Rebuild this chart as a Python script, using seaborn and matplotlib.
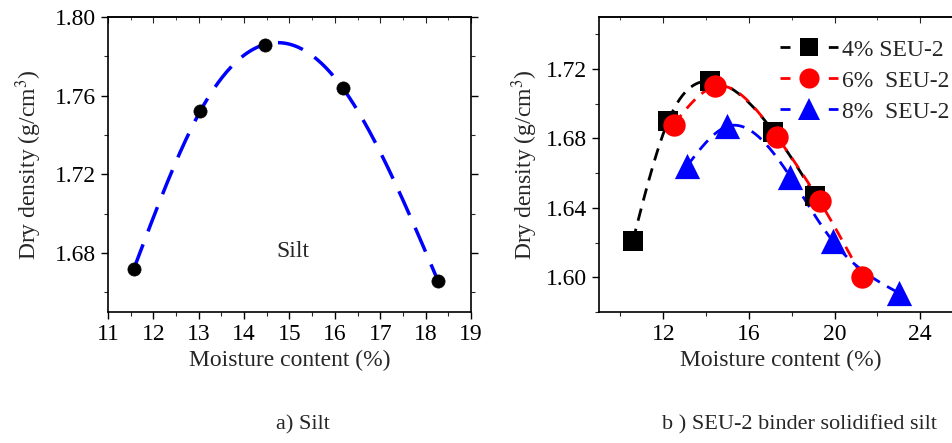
import numpy as np
import pandas as pd
import seaborn as sns
import matplotlib
matplotlib.use("Agg")
import matplotlib.pyplot as plt
from matplotlib.ticker import MultipleLocator, FormatStrFormatter
from matplotlib.lines import Line2D

# ---------------- data ----------------
silt_moisture = [11.57, 13.03, 14.45, 16.17, 18.27]
silt_density = [1.672, 1.752, 1.786, 1.764, 1.666]

seu4_moisture = [10.58, 12.23, 14.20, 17.14, 19.10]
seu4_density = [1.621, 1.690, 1.713, 1.684, 1.647]

seu6_moisture = [12.48, 14.43, 17.31, 19.30, 21.30]
seu6_density = [1.688, 1.710, 1.681, 1.644, 1.600]

seu8_moisture = [13.10, 15.00, 17.93, 19.91, 23.00]
seu8_density = [1.664, 1.687, 1.658, 1.621, 1.591]

series_labels = ["4% SEU-2", "6%  SEU-2", "8%  SEU-2"]
series_colors = ["#000000", "#ff0000", "#0000ff"]
series_markers = ["s", "o", "^"]


def natural_spline(x, y, n=200):
    x = np.asarray(x, float)
    y = np.asarray(y, float)
    k = len(x)
    h = np.diff(x)
    A = np.zeros((k, k))
    b = np.zeros(k)
    A[0, 0] = 1
    A[-1, -1] = 1
    for i in range(1, k - 1):
        A[i, i - 1] = h[i - 1]
        A[i, i] = 2 * (h[i - 1] + h[i])
        A[i, i + 1] = h[i]
        b[i] = 6 * ((y[i + 1] - y[i]) / h[i] - (y[i] - y[i - 1]) / h[i - 1])
    M = np.linalg.solve(A, b)
    xs = np.linspace(x[0], x[-1], n)
    ys = np.empty_like(xs)
    for j, xv in enumerate(xs):
        i = min(np.searchsorted(x, xv, side="right") - 1, k - 2)
        i = max(i, 0)
        t1 = x[i + 1] - xv
        t0 = xv - x[i]
        ys[j] = (M[i] * t1 ** 3 + M[i + 1] * t0 ** 3) / (6 * h[i]) \
            + (y[i] / h[i] - M[i] * h[i] / 6) * t1 \
            + (y[i + 1] / h[i] - M[i + 1] * h[i] / 6) * t0
    return xs, ys


sns.set_style("ticks")
plt.rcParams["font.family"] = ["Liberation Serif", "DejaVu Serif"]
plt.rcParams["mathtext.fontset"] = "stix"

fig = plt.figure(figsize=(9.52, 4.43), dpi=100)
W, H = 952, 443
ax1 = fig.add_axes([108 / W, 1 - 312 / H, 363 / W, 295 / H])
ax2 = fig.add_axes([599 / W, 1 - 312 / H, 364 / W, 295 / H])

FS = 17

# ---------- left panel ----------
xs, ys = natural_spline(silt_moisture, silt_density)
sns.lineplot(x=xs, y=ys, ax=ax1, color="#0000ff", lw=2.5,
             legend=False, sort=False)
ax1.lines[-1].set_dashes([7.5, 4.0])
sns.scatterplot(x=silt_moisture, y=silt_density, ax=ax1, color="black",
                s=90, edgecolor="black", linewidth=0.5, zorder=5, legend=False)
ax1.text(15.07, 1.681, "Silt", ha="center", va="center", fontsize=17)
ax1.set_xlim(11, 19)
ax1.set_ylim(1.65, 1.80)
ax1.xaxis.set_major_locator(MultipleLocator(1))
ax1.xaxis.set_minor_locator(MultipleLocator(0.5))
ax1.yaxis.set_major_locator(MultipleLocator(0.04))
ax1.yaxis.set_minor_locator(MultipleLocator(0.02))
ax1.yaxis.set_major_formatter(FormatStrFormatter("%.2f"))

# ---------- right panel ----------
data_sets = [(seu4_moisture, seu4_density), (seu6_moisture, seu6_density),
             (seu8_moisture, seu8_density)]
for (mx, dy), col in zip(data_sets, series_colors):
    xs, ys = natural_spline(mx, dy)
    sns.lineplot(x=xs, y=ys, ax=ax2, color=col, lw=2.0, legend=False, sort=False)
    ax2.lines[-1].set_dashes([4.5, 3.0])
for (mx, dy), col, mk in zip(data_sets, series_colors, series_markers):
    size = 210 if mk == "s" else (260 if mk == "o" else 330)
    sns.scatterplot(x=mx, y=dy, ax=ax2, color=col, marker=mk, s=size,
                    edgecolor=col, linewidth=0, zorder=5, legend=False)
ax2.set_xlim(9, 26)
ax2.set_ylim(1.58, 1.75)
ax2.xaxis.set_major_locator(MultipleLocator(4))
ax2.xaxis.set_minor_locator(MultipleLocator(2))
ax2.yaxis.set_major_locator(MultipleLocator(0.04))
ax2.yaxis.set_minor_locator(MultipleLocator(0.02))
ax2.yaxis.set_major_formatter(FormatStrFormatter("%.2f"))

handles = [Line2D([0], [0], color=c, lw=2.0, ls=(0, (3.6, 13.8)), marker=m,
                  markersize=(13 if m == "s" else (14.5 if m == "o" else 16)),
                  markeredgewidth=0)
           for c, m in zip(series_colors, series_markers)]
ax2.legend(handles, series_labels, loc="upper left",
           bbox_to_anchor=(0.497, 0.925), frameon=False, fontsize=FS,
           handlelength=2.45, handletextpad=0.2, labelspacing=0.4,
           borderpad=0, borderaxespad=0)

for ax, lp in ((ax1, 8), (ax2, 4)):
    for s in ax.spines.values():
        s.set_visible(True)
        s.set_linewidth(1.2)
        s.set_color("black")
    ax.tick_params(which="major", direction="out", length=5, width=1.0,
                   labelsize=FS, colors="black", top=False, right=True)
    ax.tick_params(which="minor", direction="out", length=3, width=0.8,
                   top=False, right=True)
    ax.set_xlabel("Moisture content (%)", fontsize=FS, labelpad=4)
    ax.set_ylabel("Dry density (g/cm$^3$)", fontsize=FS, labelpad=lp)
    ax.grid(False)
    ax.set_facecolor("white")
    # inward ticks along the top edge
    sec = ax.secondary_xaxis("top")
    sec.xaxis.set_major_locator(ax.xaxis.get_major_locator())
    sec.xaxis.set_minor_locator(ax.xaxis.get_minor_locator())
    sec.tick_params(which="major", direction="in", length=4, width=0.8,
                    labeltop=False)
    sec.tick_params(which="minor", direction="in", length=2.5, width=0.6)
    sec.spines["top"].set_linewidth(1.2)

fig.text(303 / W, 1 - 425 / H, "a) Silt", ha="center", va="center", fontsize=16)
fig.text(800 / W, 1 - 425 / H, "b ) SEU-2 binder solidified silt",
         ha="center", va="center", fontsize=16)

fig.savefig("out.png", dpi=100, facecolor="white")
